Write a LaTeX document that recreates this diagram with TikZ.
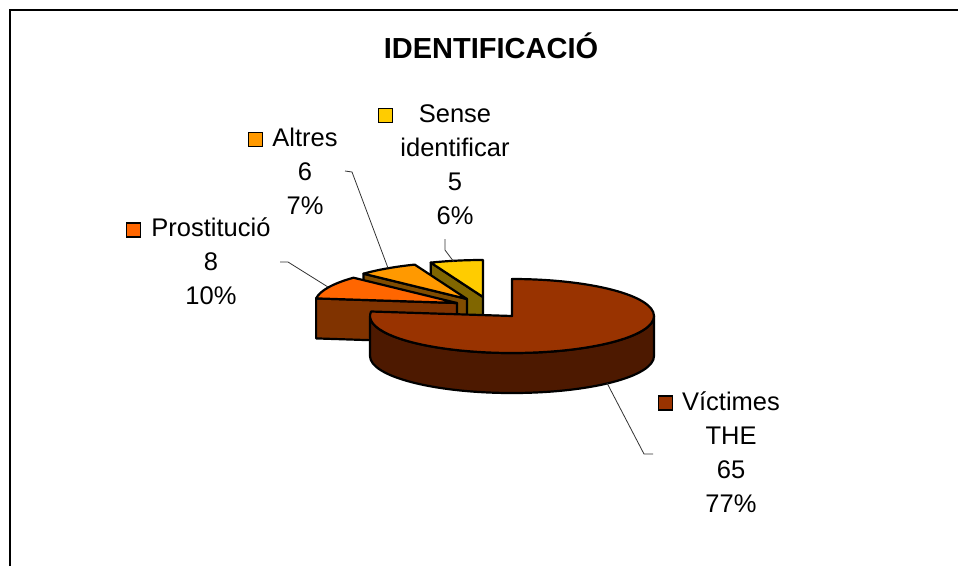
\documentclass[tikz,border=0pt]{standalone}
\usepackage{fontspec}
\setmainfont{Liberation Sans}
\usetikzlibrary{calc}
\definecolor{victtop}{HTML}{993300}
\definecolor{victside}{HTML}{4D1900}
\definecolor{prosttop}{HTML}{FF6600}
\definecolor{prostside}{HTML}{803300}
\definecolor{altrestop}{HTML}{FF9900}
\definecolor{altresside}{HTML}{804C00}
\definecolor{sensetop}{HTML}{FFCC00}
\definecolor{senseside}{HTML}{806600}
\begin{document}
\begin{tikzpicture}[x=1pt,y=-1pt,
  slice/.style={draw=black,line width=2.2pt,line join=round},
  lbl/.style={align=center,inner sep=0pt,font=\fontsize{25.5}{34}\selectfont},
  key/.style={draw=black,line width=1.6pt,minimum size=14pt,inner sep=0pt},
  leader/.style={draw=black!80,line width=0.8pt},
  rad/.style={x radius=142pt,y radius=37pt}]
\useasboundingbox (0,0) rectangle (958,566);
\coordinate (framebot) at (10,566);
\coordinate (framecorner) at (10,10);
\coordinate (frameright) at (958,10);
\draw[line width=2.5pt] (framebot) -- (framecorner) -- (frameright);
\node[font=\bfseries\fontsize{29}{34}\selectfont,anchor=base,inner sep=0pt] (title) at (491,58.3) {IDENTIFICACIÓ};
\coordinate (sc) at (483,297);
\coordinate (ac) at (467,299);
\coordinate (pc) at (457,303);
\coordinate (vc) at (512,316);
\filldraw[slice,fill=senseside] (sc) -- ++(-52.3,-34.4) -- ++(0,40) -- ++(52.3,34.4) -- cycle;
\filldraw[slice,fill=sensetop] (sc) -- ++(0,-37) arc[start angle=90,end angle=111.6,rad] -- cycle;
\filldraw[slice,fill=altresside] (ac) -- ++(-103.5,-25.3) -- ++(0,40) -- ++(103.5,25.3) -- cycle;
\filldraw[slice,fill=altrestop] (ac) -- ++(-52.3,-34.4) arc[start angle=111.6,end angle=136.8,rad] -- cycle;
\filldraw[slice,fill=prostside] (pc) -- ++(-140.9,-4.6) -- ++(0,40) -- ++(140.9,4.6) -- cycle;
\filldraw[slice,fill=prosttop] (pc) -- ++(-103.5,-25.3) arc[start angle=136.8,end angle=172.8,rad] -- cycle;
\filldraw[slice,fill=victside] ($(vc)+(142,0)$) arc[start angle=0,end angle=-180,rad] -- ++(0,40) arc[start angle=180,end angle=360,rad] -- cycle;
\filldraw[slice,fill=victtop] (vc) -- ++(0,-37) arc[start angle=90,end angle=-187,rad] -- cycle;
\node[lbl] (sense) at (455,164.6) {Sense\\identificar\\5\\6\%};
\node[key,fill=sensetop] (sensekey) at (385.5,115.5) {};
\node[lbl] (altres) at (305,171.6) {Altres\\6\\7\%};
\node[key,fill=altrestop] (altreskey) at (255.5,139.5) {};
\node[lbl] (prost) at (211,261) {Prostitució\\8\\10\%};
\node[key,fill=prosttop] (prostkey) at (133.5,230) {};
\node[lbl] (vict) at (731,452) {Víctimes\\THE\\65\\77\%};
\node[key,fill=victtop] (victkey) at (665.5,403) {};
\coordinate (senseend) at (445,239);
\coordinate (sensebend) at (445,250);
\coordinate (sensetip) at (454,262);
\coordinate (altresend) at (345,171);
\coordinate (altresbend) at (352,172);
\coordinate (altrestip) at (388,268);
\coordinate (prostend) at (280,262);
\coordinate (prostbend) at (288,262);
\coordinate (prosttip) at (328,287);
\coordinate (victend) at (653,454);
\coordinate (victbend) at (644,454);
\coordinate (victtip) at (607,383);
\draw[leader] (senseend) -- (sensebend) -- (sensetip);
\draw[leader] (altresend) -- (altresbend) -- (altrestip);
\draw[leader] (prostend) -- (prostbend) -- (prosttip);
\draw[leader] (victend) -- (victbend) -- (victtip);
\end{tikzpicture}
\end{document}
